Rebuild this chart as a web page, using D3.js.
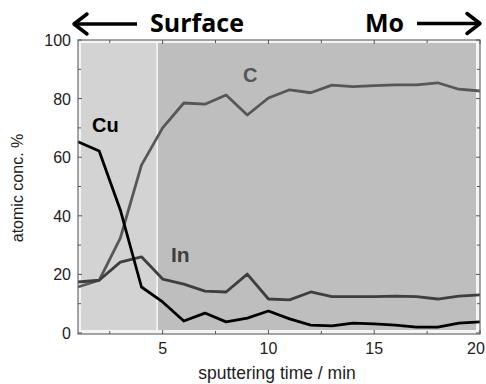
<!DOCTYPE html>
<html><head><meta charset="utf-8">
<script src="https://cdn.jsdelivr.net/npm/d3@7"></script>
<style>body{margin:0;background:#fff}svg{display:block}</style>
</head><body>
<svg id="c" width="486" height="384"></svg>
<script>
const time = [1,2,3,4,5,6,7,8,9,10,11,12,13,14,15,16,17,18,19,20];
const cu = [65.3,62.1,42,15.7,10.6,4.1,6.8,3.8,5.1,7.5,4.8,2.7,2.4,3.4,3.1,2.7,2.0,2.0,3.4,3.8];
const carbon = [15.7,18,32.4,57.3,70,78.5,78.1,81.2,74.4,80.2,83,82,84.6,84.1,84.4,84.7,84.7,85.4,83.2,82.6];
const indium = [17.4,18,24.2,26,18.4,16.7,14.3,14,20.1,11.6,11.3,14,12.4,12.4,12.4,12.6,12.4,11.6,12.6,13];
const xTicks = [5,10,15,20];
const yTicks = [0,20,40,60,80,100];
const regions = [{x0:1,x1:4.7,fill:"#d3d3d3"},{x0:4.78,x1:20,fill:"#bebebe"}];

const svg = d3.select("#c");
const L=78,R=480,T=40,B=334;
const x = d3.scaleLinear().domain([1,20]).range([L,R]);
const y = d3.scaleLinear().domain([0,100]).range([B-1,T]);

// background regions (inset a bit from the frame)
svg.append("rect").attr("x",L).attr("y",T).attr("width",R-L).attr("height",B-T).attr("fill","#f4f4f4");
regions.forEach((r,i)=>{
  const xa = i===0 ? L+3 : x(r.x0);
  const xb = i===1 ? R-4 : x(r.x1);
  svg.append("rect").attr("x",xa).attr("y",T+3).attr("width",xb-xa).attr("height",B-T-7).attr("fill",r.fill);
});

// lines
const line = d3.line().x((d,i)=>x(time[i])).y(d=>y(d));
svg.append("path").datum(carbon).attr("d",line).attr("fill","none").attr("stroke","#575757").attr("stroke-width",2.8).attr("stroke-linejoin","round");
svg.append("path").datum(indium).attr("d",line).attr("fill","none").attr("stroke","#3e3e3e").attr("stroke-width",2.8).attr("stroke-linejoin","round");
svg.append("path").datum(cu).attr("d",line).attr("fill","none").attr("stroke","#000").attr("stroke-width",2.8).attr("stroke-linejoin","round");

// frame
svg.append("rect").attr("x",L).attr("y",T).attr("width",R-L).attr("height",B-T).attr("fill","none").attr("stroke","#6a6a6a").attr("stroke-width",1.2);

// ticks (inward)
const tickColor="#555";
const xMinor=[2.5,7.5,12.5,17.5];
const yMinor=[10,30,50,70,90];
function vt(xv,len){
  svg.append("line").attr("x1",x(xv)).attr("x2",x(xv)).attr("y1",B).attr("y2",B-len).attr("stroke",tickColor);
  svg.append("line").attr("x1",x(xv)).attr("x2",x(xv)).attr("y1",T).attr("y2",T+len).attr("stroke",tickColor);
}
function ht(yv,len){
  svg.append("line").attr("y1",y(yv)).attr("y2",y(yv)).attr("x1",L).attr("x2",L+len).attr("stroke",tickColor);
  svg.append("line").attr("y1",y(yv)).attr("y2",y(yv)).attr("x1",R).attr("x2",R-len).attr("stroke",tickColor);
}
xTicks.forEach(t=>vt(t,4)); xMinor.forEach(t=>vt(t,3));
yTicks.forEach(t=>ht(t,4)); yMinor.forEach(t=>ht(t,3));

// tick labels
const font="'Liberation Sans', Arial, sans-serif";
svg.selectAll(".xl").data(xTicks).enter().append("text").attr("x",d=>Math.min(x(d),476)).attr("y",B+20)
  .attr("text-anchor","middle").attr("font-family",font).attr("font-size",16).attr("fill","#222").text(d=>d);
svg.selectAll(".yl").data(yTicks).enter().append("text").attr("x",L-7).attr("y",d=>y(d)+6)
  .attr("text-anchor","end").attr("font-family",font).attr("font-size",16).attr("fill","#222").text(d=>d);

// axis titles
svg.append("text").attr("x",277).attr("y",379).attr("text-anchor","middle").attr("font-family",font).attr("font-size",17.5).attr("fill","#222").text("sputtering time / min");
svg.append("text").attr("transform","translate(23,188) rotate(-90)").attr("text-anchor","middle").attr("font-family",font).attr("font-size",16).attr("fill","#222").text("atomic conc. %");

// series labels
svg.append("text").attr("x",92).attr("y",132).attr("font-family",font).attr("font-weight","bold").attr("font-size",20).attr("fill","#000").text("Cu");
svg.append("text").attr("x",243).attr("y",82).attr("font-family",font).attr("font-weight","bold").attr("font-size",20).attr("fill","#555").text("C");
svg.append("text").attr("x",171).attr("y",262).attr("font-family",font).attr("font-weight","bold").attr("font-size",21).attr("fill","#3e3e3e").text("In");

// header with arrows
const hfont="'Open Sans','Noto Sans', sans-serif";
function arrow(x1,x2,yy,dir){
  svg.append("line").attr("x1",x1).attr("x2",x2).attr("y1",yy).attr("y2",yy).attr("stroke","#000").attr("stroke-width",3.5);
  const tip = dir<0 ? x1 : x2;
  const back = tip - dir*13;
  svg.append("path").attr("d",`M${back},${yy-10} L${tip},${yy} L${back},${yy+10}`)
    .attr("fill","none").attr("stroke","#000").attr("stroke-width",3.5).attr("stroke-linecap","round").attr("stroke-linejoin","round");
}
arrow(74,137,24,-1);
arrow(417,480,23.5,1);
svg.append("text").attr("x",150).attr("y",32).attr("font-family",hfont).attr("font-weight","bold").attr("font-size",25).attr("fill","#000").text("Surface");
svg.append("text").attr("x",365).attr("y",32).attr("font-family",hfont).attr("font-weight","bold").attr("font-size",25).attr("fill","#000").text("Mo");
</script>
</body></html>
